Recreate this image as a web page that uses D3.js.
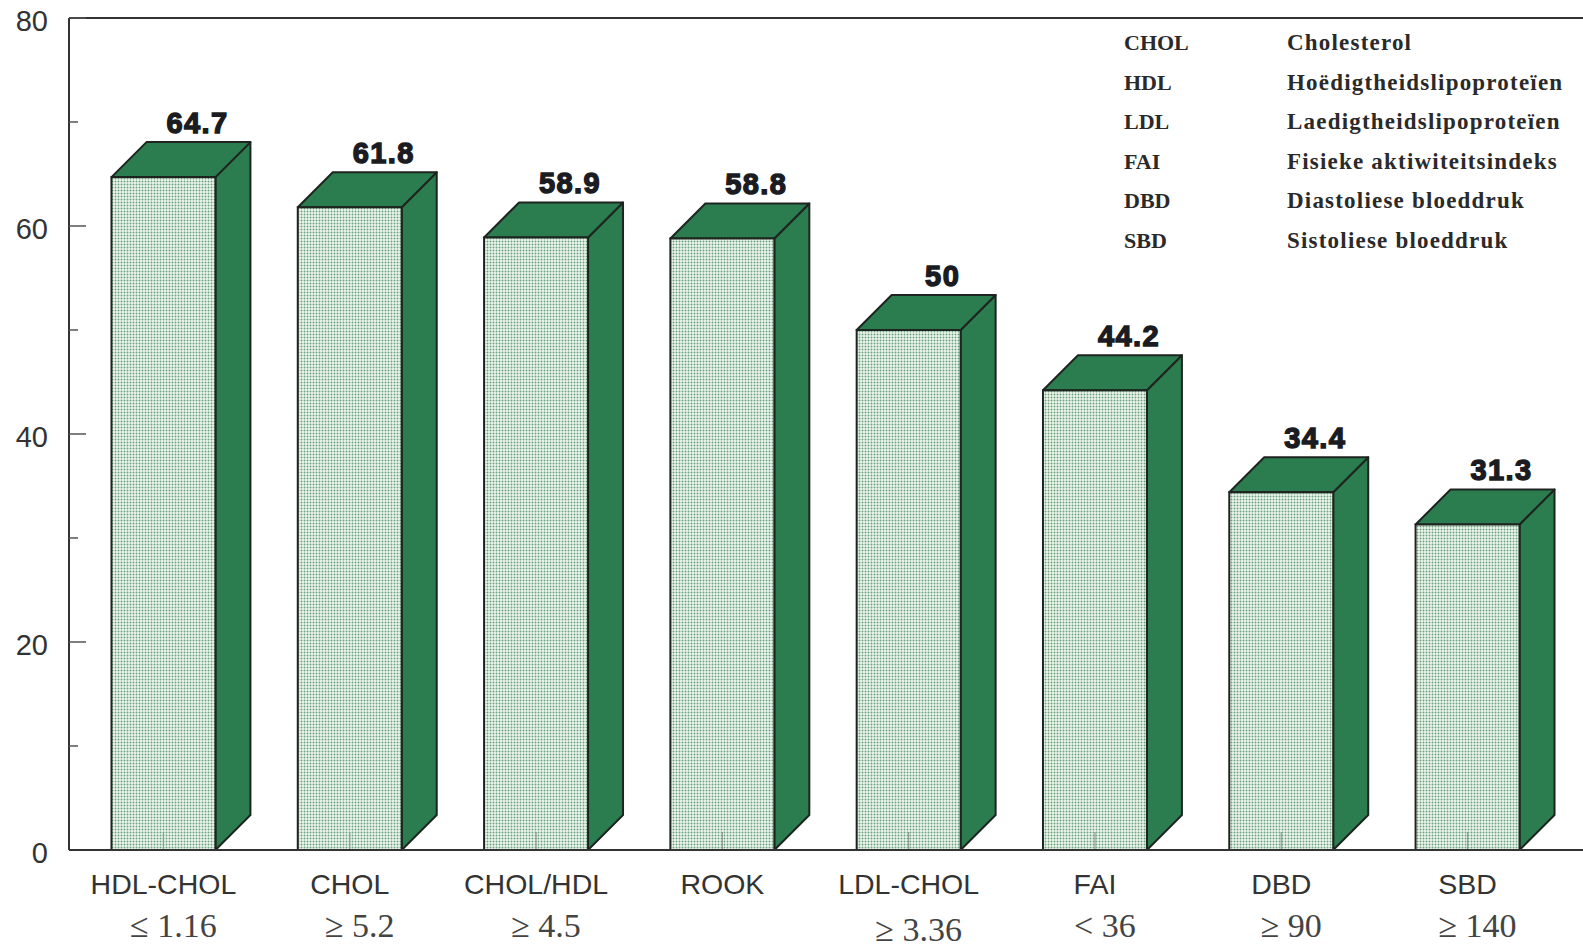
<!DOCTYPE html>
<html>
<head>
<meta charset="utf-8">
<script src="https://cdn.jsdelivr.net/npm/d3@7"></script>
<style>
  body { margin: 0; background: #fff; }
  svg { display: block; }
</style>
</head>
<body>
<svg width="1583" height="949"></svg>
<script>
var width = 1583,
  height = 949;

// data
var categories = ["HDL-CHOL", "CHOL", "CHOL/HDL", "ROOK", "LDL-CHOL", "FAI", "DBD", "SBD"];
var thresholds = ["≤ 1.16", "≥ 5.2", "≥ 4.5", "", "≥ 3.36", "< 36", "≥ 90", "≥ 140"];
var values = [64.7, 61.8, 58.9, 58.8, 50, 44.2, 34.4, 31.3];
var yTicks = [0, 20, 40, 60, 80];
var yMinorTicks = [10, 30, 50, 70];
var legendAbbr = ["CHOL", "HDL", "LDL", "FAI", "DBD", "SBD"];
var legendDesc = [
  "Cholesterol",
  "Hoëdigtheidslipoproteïen",
  "Laedigtheidslipoproteïen",
  "Fisieke aktiwiteitsindeks",
  "Diastoliese bloeddruk",
  "Sistoliese bloeddruk"
];

var green = "#2b7d4f",
  edge = "#1e2420",
  depth = 35;

var svg = d3.select("svg");

var x = d3
  .scaleBand()
  .domain(categories)
  .range([69, 1562])
  .paddingInner(0.442)
  .paddingOuter(0.228);

var y = d3.scaleLinear().domain([0, 80]).range([850, 18]);

// dotted pattern for the front faces
var defs = svg.append("defs");
var pat = defs
  .append("pattern")
  .attr("id", "dots")
  .attr("patternUnits", "userSpaceOnUse")
  .attr("width", 3)
  .attr("height", 3);
pat.append("rect").attr("width", 3).attr("height", 3).attr("fill", "#edf5ee");
pat.append("circle").attr("cx", 1.5).attr("cy", 1.5).attr("r", 0.95).attr("fill", "#68a27d");

var data = categories.map((c, i) => ({ cat: c, thr: thresholds[i], v: values[i] }));

// frame lines
svg
  .append("line")
  .attr("x1", 69).attr("x2", width)
  .attr("y1", y(80)).attr("y2", y(80))
  .attr("stroke", "#333").attr("stroke-width", 2);

var bars = svg.selectAll("g.bar").data(data).enter().append("g").attr("class", "bar");

// side face
bars
  .append("path")
  .attr("d", (d) => {
    var x1 = x(d.cat) + x.bandwidth(), t = y(d.v), b = y(0);
    return "M" + x1 + "," + t + "L" + (x1 + depth) + "," + (t - depth) +
      "L" + (x1 + depth) + "," + (b - depth) + "L" + x1 + "," + b + "Z";
  })
  .attr("fill", green)
  .attr("stroke", edge)
  .attr("stroke-width", 2)
  .attr("stroke-linejoin", "round");

// top face
bars
  .append("path")
  .attr("d", (d) => {
    var x0 = x(d.cat), x1 = x0 + x.bandwidth(), t = y(d.v);
    return "M" + x0 + "," + t + "L" + (x0 + depth) + "," + (t - depth) +
      "L" + (x1 + depth) + "," + (t - depth) + "L" + x1 + "," + t + "Z";
  })
  .attr("fill", green)
  .attr("stroke", edge)
  .attr("stroke-width", 2)
  .attr("stroke-linejoin", "round");

// front face
bars
  .append("rect")
  .attr("x", (d) => x(d.cat))
  .attr("y", (d) => y(d.v))
  .attr("width", x.bandwidth())
  .attr("height", (d) => y(0) - y(d.v))
  .attr("fill", "url(#dots)")
  .attr("stroke", edge)
  .attr("stroke-width", 2);

// small x ticks showing through the bars
bars
  .append("line")
  .attr("x1", (d) => x(d.cat) + x.bandwidth() / 2)
  .attr("x2", (d) => x(d.cat) + x.bandwidth() / 2)
  .attr("y1", y(0))
  .attr("y2", y(0) - 18)
  .attr("stroke", "#8c9a90")
  .attr("stroke-width", 1.2);

// value labels
bars
  .append("text")
  .attr("x", (d) => x(d.cat) + x.bandwidth() / 2 + depth - 1)
  .attr("y", (d) => y(d.v) - depth - 9)
  .attr("text-anchor", "middle")
  .attr("font-family", "Liberation Sans, Arial, sans-serif")
  .attr("font-weight", "bold")
  .attr("font-size", 29)
  .attr("letter-spacing", 1.4)
  .attr("fill", "#1b1c22")
  .attr("stroke", "#1b1c22")
  .attr("stroke-width", 1.4)
  .text((d) => d.v);

// y axis with inward ticks
var yAxis = svg.append("g");
yAxis
  .append("line")
  .attr("x1", 69).attr("x2", 69)
  .attr("y1", y(80)).attr("y2", y(0))
  .attr("stroke", "#333").attr("stroke-width", 2);

yAxis
  .selectAll("line.major")
  .data(yTicks)
  .enter()
  .append("line")
  .attr("class", "major")
  .attr("x1", 69).attr("x2", 86)
  .attr("y1", (d) => y(d)).attr("y2", (d) => y(d))
  .attr("stroke", "#555").attr("stroke-width", 1.5);

yAxis
  .selectAll("line.minor")
  .data(yMinorTicks)
  .enter()
  .append("line")
  .attr("class", "minor")
  .attr("x1", 69).attr("x2", 78)
  .attr("y1", (d) => y(d)).attr("y2", (d) => y(d))
  .attr("stroke", "#555").attr("stroke-width", 1.5);

yAxis
  .selectAll("text")
  .data(yTicks)
  .enter()
  .append("text")
  .attr("x", 48)
  .attr("y", (d) => y(d) + 3)
  .attr("text-anchor", "end")
  .attr("dominant-baseline", "central")
  .attr("font-family", "Liberation Sans, Arial, sans-serif")
  .attr("font-size", 29)
  .attr("fill", "#333")
  .text((d) => d);

// baseline
svg
  .append("line")
  .attr("x1", 69).attr("x2", width)
  .attr("y1", y(0)).attr("y2", y(0))
  .attr("stroke", "#333").attr("stroke-width", 2);

// category labels
svg
  .selectAll("text.cat")
  .data(data)
  .enter()
  .append("text")
  .attr("class", "cat")
  .attr("x", (d) => x(d.cat) + x.bandwidth() / 2)
  .attr("y", 894)
  .attr("text-anchor", "middle")
  .attr("font-family", "Liberation Sans, Arial, sans-serif")
  .attr("font-size", 28.5)
  .attr("fill", "#333")
  .text((d) => d.cat);

svg
  .selectAll("text.thr")
  .data(data)
  .enter()
  .append("text")
  .attr("class", "thr")
  .attr("x", (d) => x(d.cat) + x.bandwidth() / 2 + 10)
  .attr("y", (d) => d.cat === "LDL-CHOL" ? 941 : 937)
  .attr("text-anchor", "middle")
  .attr("font-family", "Liberation Serif, Times New Roman, serif")
  .attr("font-size", 34)
  .attr("fill", "#444")
  .text((d) => d.thr);

// legend of abbreviations
var legend = svg.append("g").attr("font-family", "Liberation Serif, Times New Roman, serif")
  .attr("font-weight", "bold").attr("fill", "#2a2a2a");

legend
  .selectAll("text.abbr")
  .data(legendAbbr)
  .enter()
  .append("text")
  .attr("class", "abbr")
  .attr("x", 1124)
  .attr("y", (d, i) => 50 + i * 39.6)
  .attr("font-size", 22)
  .text((d) => d);

legend
  .selectAll("text.desc")
  .data(legendDesc)
  .enter()
  .append("text")
  .attr("class", "desc")
  .attr("x", 1287)
  .attr("y", (d, i) => 50 + i * 39.6)
  .attr("font-size", 23)
  .attr("letter-spacing", 1.2)
  .text((d) => d);
</script>
</body>
</html>
